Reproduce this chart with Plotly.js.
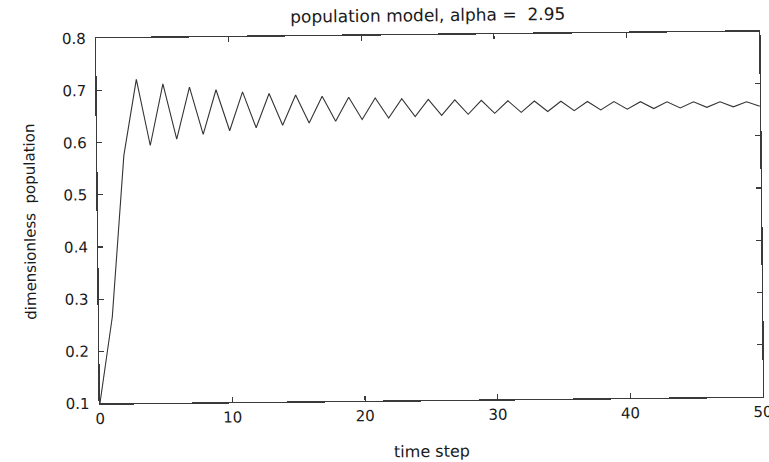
<!DOCTYPE html>
<html>
<head>
<meta charset="utf-8">
<script src="https://cdn.plot.ly/plotly-3.0.1.min.js"></script>
<style>
html,body{margin:0;padding:0;background:#fff;overflow:hidden;}
#chart{width:769px;height:462px;transform:rotate(-0.6deg);transform-origin:430px 217px;}
</style>
</head>
<body>
<div id="chart"></div>
<script>
const timeSteps = Array.from({length: 51}, (_, i) => i);
const population = [
  0.1, 0.2655, 0.575279, 0.720781, 0.593705, 0.711596, 0.605420, 0.704716, 0.613871, 0.699248,
  0.620385, 0.694746, 0.625618, 0.690949, 0.629940, 0.687692, 0.633577, 0.684864, 0.636684, 0.682388,
  0.639366, 0.680202, 0.641707, 0.678264, 0.643752, 0.676541, 0.645557, 0.674999, 0.647156, 0.673620,
  0.648575, 0.672379, 0.649841, 0.671264, 0.650974, 0.670261, 0.651982, 0.669361, 0.652885, 0.668547,
  0.653694, 0.667815, 0.654422, 0.667154, 0.655077, 0.666555, 0.655667, 0.666016, 0.656192, 0.665532,
  0.656670
];
const xTicks = [0, 10, 20, 30, 40, 50];
const yTicks = [0.1, 0.2, 0.3, 0.4, 0.5, 0.6, 0.7, 0.8];

const fam = 'DejaVu Sans, Liberation Sans, Arial, sans-serif';
const txt = '#1a1a1a';
const axisCommon = {
  showgrid: false, zeroline: false, showline: true, mirror: 'ticks',
  linecolor: '#3a3a3a', linewidth: 1.4, ticks: 'inside', ticklen: 5, tickcolor: '#3a3a3a', tickwidth: 1.2,
  tickfont: {family: fam, size: 15, color: txt}, ticklabeloverflow: 'allow'
};
Plotly.newPlot('chart', [{
  x: timeSteps, y: population, type: 'scatter', mode: 'lines',
  line: {color: '#333', width: 1.1}, hoverinfo: 'skip'
}], {
  width: 769, height: 462,
  margin: {l: 98, r: 8, t: 35, b: 62},
  paper_bgcolor: '#fff', plot_bgcolor: '#fff',
  showlegend: false,
  title: {text: 'population model, alpha =  2.95', font: {family: fam, size: 17, color: txt},
          xref: 'container', x: 0.559, xanchor: 'center', yref: 'container', y: 0.967, yanchor: 'middle'},
  xaxis: Object.assign({}, axisCommon, {
    range: [0, 50], tickvals: xTicks, ticktext: xTicks.map(String), ticklabelstandoff: 1,
    title: {text: 'time step', font: {family: fam, size: 16, color: txt}, standoff: 22}
  }),
  yaxis: Object.assign({}, axisCommon, {
    range: [0.1, 0.8], tickvals: yTicks, ticktext: yTicks.map(v => v.toFixed(1)), ticklabelstandoff: 6,
    title: {text: 'dimensionless  population', font: {family: fam, size: 15, color: txt}, standoff: 24}
  })
}, {staticPlot: true});
</script>
</body>
</html>
